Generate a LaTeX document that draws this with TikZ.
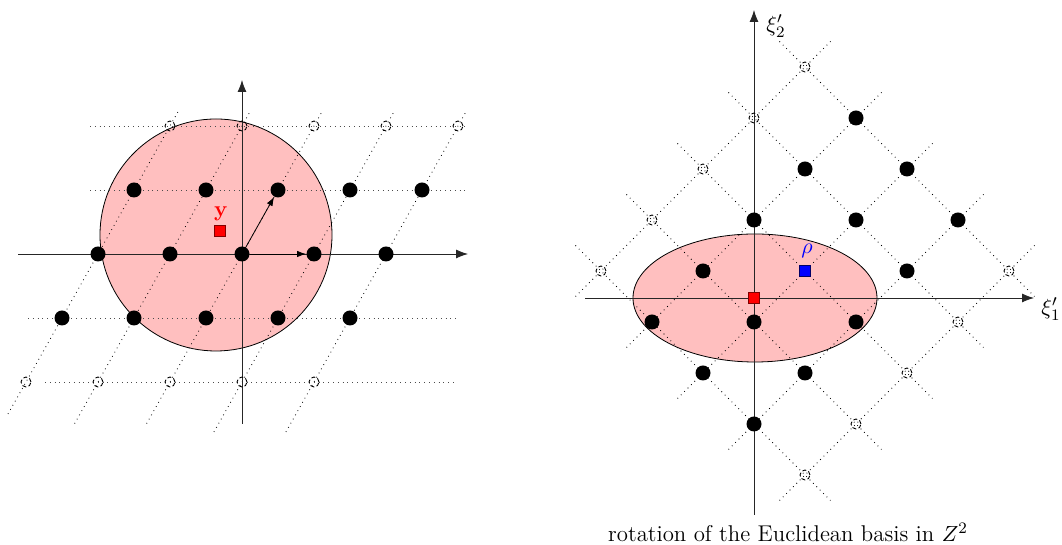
\documentclass[tikz,border=0pt]{standalone}
\usepackage{xcolor}
\usepackage{tikz}
\usetikzlibrary{shapes,arrows,arrows.meta,positioning,calc}

\begin{document}
\begin{tikzpicture}[
    x=0.5pt, y=0.5pt,
    every node/.style={font=\fontsize{11.4}{14}\selectfont},
    dot/.style={circle, fill=black, inner sep=0pt, minimum size=7.5pt},
    hole/.style={circle, draw, dash pattern=on 2pt off 1.2pt, line width=0.45pt, inner sep=0pt, minimum size=5pt},
    marker/.style={rectangle, draw, inner sep=0pt, minimum size=5.5pt},
    axis/.style={-{Latex[length=6pt, width=4.5pt]}, black!85},
    basis/.style={-{Latex[length=4.5pt, width=3.2pt]}},
    gridline/.style={dotted}
]
    \useasboundingbox (0,0) rectangle (1062,545);

    % Left: ball around y in a skewed lattice
    \draw[fill=red!25] (216,310) circle (116);

    % Lattice lines (left)
    \draw[gridline, black!70] (90,419) -- (468,419);
    \draw[gridline, black!70] (90,355) -- (468,355);
    \draw[gridline, black!70] (28,227) -- (456,227);
    \draw[gridline, black!70] (45,163) -- (456,163);
    \foreach \i/\jb in {-2/-2.5, -1/-2.65, 0/-2.65, 1/-2.78, 2/-2.78}
        \draw[gridline] ({242+72*\i+36*\jb},{291+64*\jb}) -- ({242+72*\i+36*2.25},{291+64*2.25});

    % Axes (left)
    \draw[axis] (18,291) -- (468,291);
    \draw[axis] (242,121) -- (242,465);

    % Lattice points (left)
    \foreach \i in {-2,...,2}
        \foreach \j/\kind in {-2/hole, -1/dot, 0/dot, 1/dot, 2/hole}
            \node[\kind] (a\i\j) at ({242+72*\i+36*\j},{291+64*\j}) {};

    % Basis vectors
    \draw[basis] (a00) -- (a10);
    \draw[basis] (a00) -- (a01);

    % Target point y
    \node[marker, fill=red, draw=red!50!black] (y) at (220,314) {};
    \node[text=red] (ylab) at (221,331) {$\mathbf{y}$};

    % Right: ellipse in the rotated lattice
    \draw[fill=red!25] (755,247) ellipse (122 and 64);

    % Lattice lines (right)
    \foreach \n in {-2,...,2}
        \draw[gridline] ({754+51*(-1.5+\n)},{223+51*(-1.5-\n)}) -- ({754+51*(3.5+\n)},{223+51*(3.5-\n)});
    \foreach \m in {-1,...,3}
        \draw[gridline] ({754+51*(\m-2.5)},{223+51*(\m+2.5)}) -- ({754+51*(\m+2.5)},{223+51*(\m-2.5)});

    % Axes (right)
    \draw[axis] (585,247) -- (1034,247);
    \draw[axis] (754,30) -- (754,535);
    \node (xi1) at (1051,236) {$\xi'_1$};
    \node (xi2) at (776,519) {$\xi'_2$};

    % Lattice points (right), the point at (1,0) is rho
    \foreach \m in {-1,...,3}
        \foreach \n/\kind in {-2/hole, -1/dot, 0/dot, 1/dot, 2/hole} {
            \pgfmathtruncatemacro\isrho{and(\m==1,\n==0)}
            \ifnum\isrho=0
                \node[\kind] (b\m\n) at ({754+51*(\m+\n)},{223+51*(\m-\n)}) {};
            \fi
        }

    \node[marker, fill=red, draw=red!50!black] (origin) at (754,247) {};
    \node[marker, fill=blue, draw=blue!40!black] (rho) at (805,274) {};
    \node[text=blue] (rholab) at (807,294) {$\rho$};

    % Caption
    \node (caption) at (788,13) {rotation of the Euclidean basis in $Z^2$};
\end{tikzpicture}
\end{document}
